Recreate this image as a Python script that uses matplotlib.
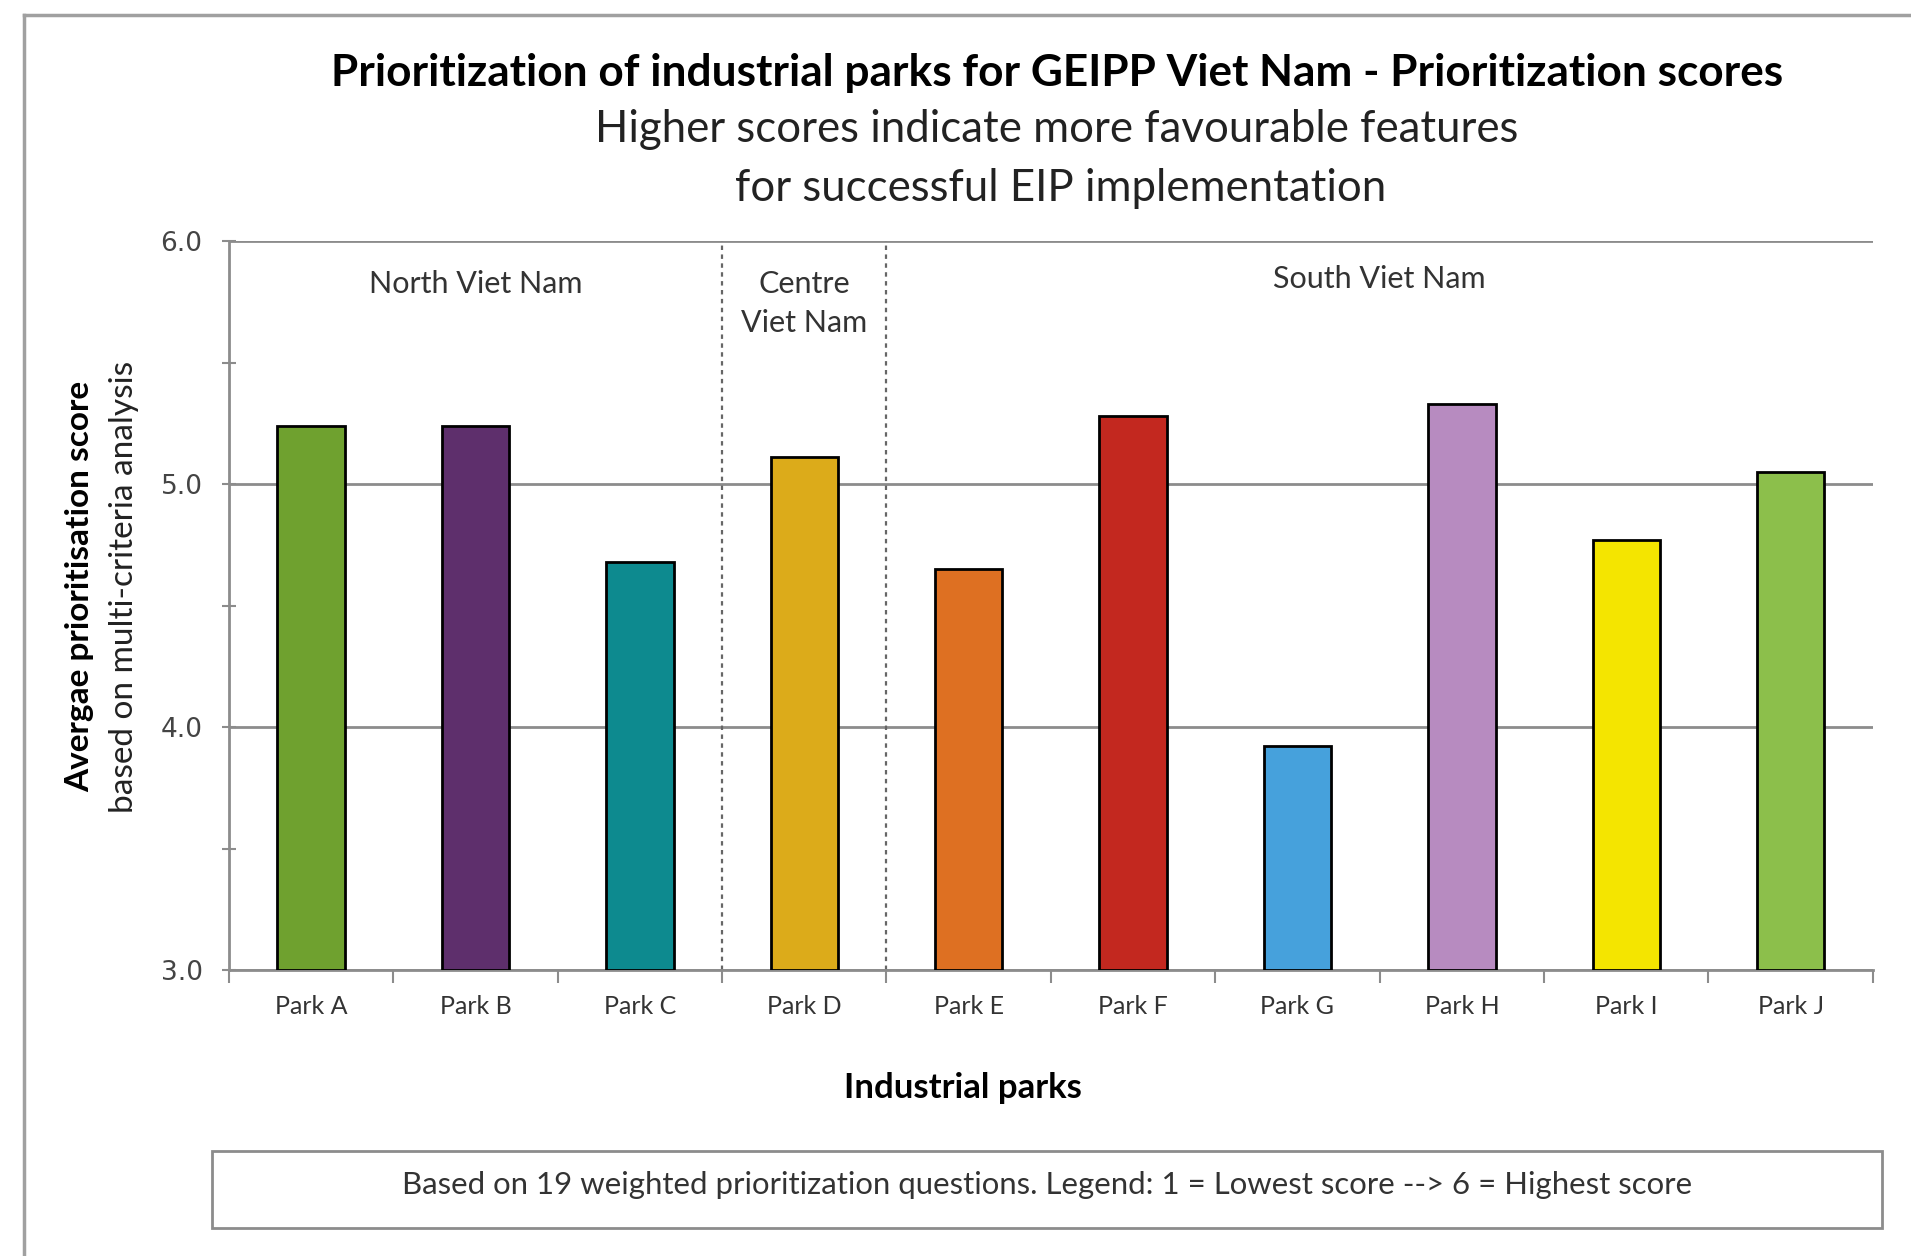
import numpy as np
import matplotlib.pyplot as plt
from matplotlib.patches import Rectangle
from matplotlib.lines import Line2D
from matplotlib.ticker import MultipleLocator

# Data
parks = ['Park A', 'Park B', 'Park C', 'Park D', 'Park E',
         'Park F', 'Park G', 'Park H', 'Park I', 'Park J']
scores = [5.24, 5.24, 4.68, 5.11, 4.65, 5.28, 3.92, 5.33, 4.77, 5.05]
bar_colors = ['#6fa12f', '#5e2f6c', '#0d8a8f', '#dcab1a', '#de7022',
              '#c3281f', '#46a1dc', '#b78bc0', '#f4e500', '#8cbf4b']
regions = ['North Viet Nam', 'Centre\nViet Nam', 'South Viet Nam']
region_bounds = [(0, 3), (3, 4), (4, 10)]  # index ranges of the parks

plt.rcParams['font.family'] = ['Lato', 'DejaVu Sans']

fig = plt.figure(figsize=(19.11, 12.56), dpi=100)
ax = fig.add_axes([0.1198, 0.2277, 0.8602, 0.5804])

x = np.arange(len(parks))
ax.bar(x, np.array(scores) - 3.0, bottom=3.0, width=0.41, color=bar_colors,
       edgecolor='black', linewidth=2, zorder=3)

ax.set_xlim(-0.5, len(parks) - 0.5)
ax.set_ylim(3.0, 6.0)
ax.yaxis.set_minor_locator(MultipleLocator(0.5))
ax.set_yticks([3.0, 4.0, 5.0, 6.0])
ax.set_yticklabels(['3.0', '4.0', '5.0', '6.0'], family='DejaVu Sans',
                   fontsize=19, color='#444444')
ax.grid(axis='y', which='major', color='#8c8c8c', linewidth=2, zorder=0)

# Excel-like category ticks on the boundaries
ax.set_xticks(x)
ax.set_xticklabels(parks, fontsize=18, color='#333333')
ax.tick_params(axis='x', which='major', length=0, pad=18)
ax.set_xticks(np.arange(-0.5, len(parks)), minor=True)
ax.tick_params(axis='x', which='minor', length=9, width=1.5, color='#8c8c8c',
               direction='out')
ax.tick_params(axis='y', which='both', length=10, width=1.5, color='#8c8c8c',
               direction='inout', pad=14)

for side in ['top', 'right']:
    ax.spines[side].set_visible(False)
for side in ['left', 'bottom']:
    ax.spines[side].set_color('#8c8c8c')
    ax.spines[side].set_linewidth(2)

# Region separators and labels
for lo, hi in region_bounds[1:]:
    ax.axvline(lo - 0.5, color='#666666', linestyle=(0, (2, 2)),
               linewidth=1.6, zorder=2)
label_y = [5.88, 5.88, 5.90]
for name, (lo, hi), ly in zip(regions, region_bounds, label_y):
    ax.text((lo + hi - 1) / 2, ly, name, ha='center', va='top',
            fontsize=22, color='#333333', linespacing=1.45)

# Titles
fig.text(0.553, 0.942, 'Prioritization of industrial parks for GEIPP Viet Nam - Prioritization scores',
         ha='center', va='center', fontsize=31.8, fontweight='bold', color='black')
fig.text(0.553, 0.897, 'Higher scores indicate more favourable features',
         ha='center', va='center', fontsize=31.5, color='#222222')
fig.text(0.555, 0.850, 'for successful EIP implementation',
         ha='center', va='center', fontsize=31.5, color='#222222')

# Axis labels
fig.text(0.0415, 0.533, 'Avergae prioritisation score', rotation=90,
         ha='center', va='center', fontsize=24, fontweight='bold', color='black')
fig.text(0.0650, 0.533, 'based on multi-criteria analysis', rotation=90,
         ha='center', va='center', fontsize=24, color='#222222')
fig.text(0.504, 0.134, 'Industrial parks', ha='center', va='center',
         fontsize=25, fontweight='bold', color='black')

# Note box at the bottom
fig.patches.append(Rectangle((0.111, 0.0223), 0.874, 0.0611,
                             transform=fig.transFigure, fill=False,
                             edgecolor='#8c8c8c', linewidth=2))
fig.text(0.548, 0.0565,
         'Based on 19 weighted prioritization questions. Legend: 1 = Lowest score --> 6 = Highest score',
         ha='center', va='center', fontsize=22.4, color='#333333')

# Outer frame lines (left and top)
fig.add_artist(Line2D([0.0128, 0.0128], [0.0, 0.988], transform=fig.transFigure,
                      color='#a0a0a0', linewidth=2.5))
fig.add_artist(Line2D([0.0128, 1.0], [0.988, 0.988], transform=fig.transFigure,
                      color='#a0a0a0', linewidth=2.5))

fig.savefig('out.png', dpi=100)
